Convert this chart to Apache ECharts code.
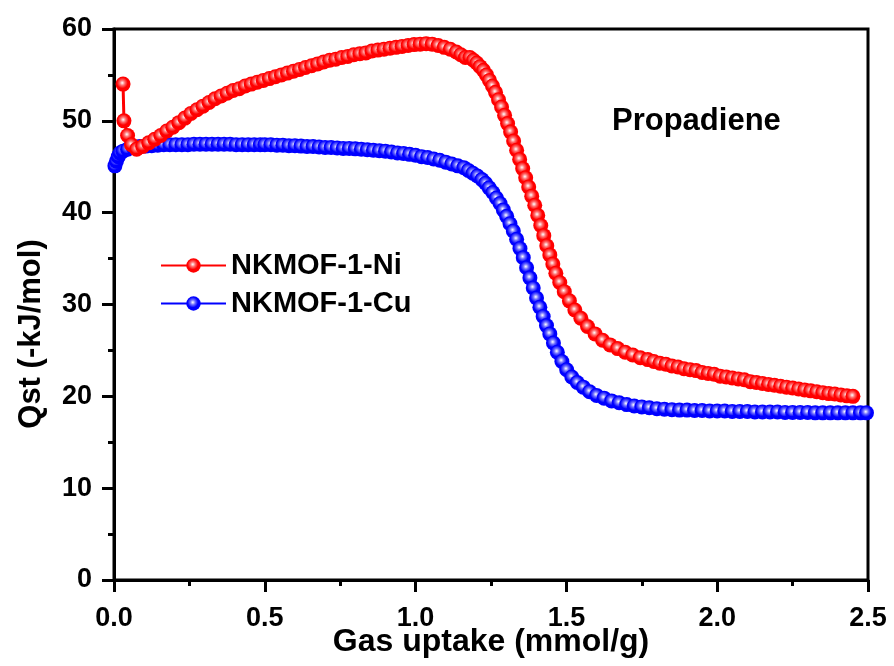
<!DOCTYPE html>
<html>
<head>
<meta charset="utf-8">
<script src="https://cdn.jsdelivr.net/npm/echarts@6/dist/echarts.min.js"></script>
<style>
  html, body { margin: 0; padding: 0; background: #fff; }
  #main { width: 894px; height: 666px; }
</style>
</head>
<body>
<div id="main"></div>
<script>
// NKMOF-1-Ni, Qst vs uptake
var niX = [0.030, 0.033, 0.045, 0.058, 0.075, 0.095, 0.115, 0.135, 0.155, 0.175, 0.195, 0.215, 0.235, 0.255, 0.275,
    0.295, 0.315, 0.335, 0.355, 0.375, 0.395, 0.415, 0.435, 0.455, 0.475, 0.495, 0.515, 0.535, 0.555, 0.575,
    0.595, 0.615, 0.635, 0.655, 0.675, 0.695, 0.715, 0.735, 0.755, 0.775, 0.795, 0.815, 0.835, 0.855, 0.875,
    0.895, 0.915, 0.935, 0.955, 0.975, 0.995, 1.015, 1.035, 1.055, 1.075, 1.095, 1.115, 1.135, 1.150, 1.165,
    1.180, 1.192, 1.203, 1.214, 1.225, 1.235, 1.245, 1.255, 1.265, 1.275, 1.285, 1.295, 1.305, 1.315, 1.325,
    1.335, 1.345, 1.355, 1.365, 1.375, 1.385, 1.395, 1.405, 1.415, 1.425, 1.435, 1.445, 1.455, 1.465, 1.478,
    1.493, 1.510, 1.528, 1.548, 1.570, 1.595, 1.620, 1.645, 1.670, 1.695, 1.720, 1.745, 1.770, 1.790, 1.810,
    1.830, 1.850, 1.870, 1.890, 1.910, 1.930, 1.950, 1.970, 1.990, 2.010, 2.030, 2.050, 2.070, 2.090, 2.110,
    2.130, 2.150, 2.170, 2.190, 2.210, 2.230, 2.250, 2.270, 2.290, 2.310, 2.330, 2.350, 2.370, 2.390, 2.410,
    2.430, 2.450];
var niY = [54.0, 50.0, 48.4, 47.4, 46.9, 47.2, 47.6, 48.0, 48.4, 48.9, 49.3, 49.8, 50.3, 50.8, 51.2,
    51.6, 52.0, 52.4, 52.7, 53.0, 53.3, 53.5, 53.8, 54.0, 54.2, 54.4, 54.6, 54.8, 55.0, 55.2,
    55.4, 55.6, 55.8, 56.0, 56.2, 56.4, 56.6, 56.7, 56.9, 57.0, 57.2, 57.3, 57.4, 57.6, 57.7,
    57.8, 57.9, 58.0, 58.1, 58.2, 58.3, 58.35, 58.4, 58.35, 58.2, 58.0, 57.8, 57.5, 57.2, 56.9,
    56.9, 56.6, 56.3, 55.9, 55.5, 55.0, 54.4, 53.8, 53.1, 52.3, 51.5, 50.6, 49.7, 48.8, 47.8,
    46.8, 45.8, 44.8, 43.8, 42.8, 41.8, 40.8, 39.7, 38.6, 37.5, 36.4, 35.4, 34.4, 33.4, 32.4,
    31.4, 30.4, 29.4, 28.5, 27.6, 26.8, 26.1, 25.6, 25.2, 24.8, 24.5, 24.2, 24.0, 23.8, 23.6,
    23.5, 23.3, 23.2, 23.0, 22.9, 22.8, 22.6, 22.5, 22.4, 22.2, 22.1, 22.0, 21.9, 21.8, 21.6,
    21.5, 21.4, 21.3, 21.2, 21.1, 21.0, 20.9, 20.8, 20.7, 20.6, 20.5, 20.4, 20.3, 20.25, 20.15,
    20.05, 20.0];

// NKMOF-1-Cu
var cuX = [0.003, 0.008, 0.014, 0.020, 0.030, 0.045, 0.064, 0.085, 0.105, 0.125, 0.145, 0.165, 0.185, 0.205, 0.225,
    0.245, 0.265, 0.285, 0.305, 0.325, 0.345, 0.365, 0.385, 0.405, 0.425, 0.445, 0.465, 0.485, 0.500, 0.520,
    0.540, 0.560, 0.580, 0.600, 0.620, 0.640, 0.660, 0.680, 0.700, 0.720, 0.740, 0.760, 0.780, 0.800, 0.820,
    0.840, 0.860, 0.880, 0.900, 0.920, 0.940, 0.960, 0.980, 1.000, 1.020, 1.040, 1.060, 1.080, 1.100, 1.120,
    1.140, 1.160, 1.175, 1.190, 1.205, 1.220, 1.232, 1.244, 1.256, 1.268, 1.280, 1.291, 1.302, 1.313, 1.324,
    1.335, 1.346, 1.357, 1.368, 1.379, 1.390, 1.401, 1.412, 1.423, 1.434, 1.445, 1.457, 1.470, 1.485, 1.501,
    1.518, 1.536, 1.556, 1.577, 1.600, 1.625, 1.650, 1.675, 1.700, 1.725, 1.750, 1.775, 1.800, 1.825, 1.850,
    1.875, 1.900, 1.925, 1.950, 1.975, 2.000, 2.025, 2.050, 2.075, 2.100, 2.125, 2.150, 2.175, 2.200, 2.225,
    2.250, 2.275, 2.300, 2.325, 2.350, 2.375, 2.400, 2.425, 2.450, 2.475, 2.495];
var cuY = [45.1, 45.6, 46.1, 46.5, 46.7, 46.9, 47.1, 47.2, 47.25, 47.3, 47.35, 47.4, 47.4, 47.4, 47.4,
    47.4, 47.45, 47.45, 47.45, 47.45, 47.45, 47.45, 47.45, 47.4, 47.4, 47.4, 47.4, 47.4, 47.4, 47.4,
    47.35, 47.35, 47.3, 47.3, 47.25, 47.2, 47.2, 47.15, 47.1, 47.1, 47.05, 47.0, 47.0, 46.95, 46.9,
    46.85, 46.8, 46.75, 46.7, 46.6, 46.5, 46.45, 46.35, 46.25, 46.1, 46.0, 45.85, 45.7, 45.5, 45.3,
    45.1, 44.9, 44.6, 44.3, 44.0, 43.6, 43.2, 42.7, 42.2, 41.6, 41.0, 40.3, 39.6, 38.8, 38.0,
    37.1, 36.1, 35.1, 34.0, 32.9, 31.8, 30.7, 29.7, 28.7, 27.7, 26.8, 25.8, 24.8, 23.8, 22.9,
    22.1, 21.5, 21.0, 20.5, 20.1, 19.8, 19.5, 19.3, 19.1, 18.95, 18.85, 18.75, 18.65, 18.6, 18.55,
    18.5, 18.5, 18.45, 18.45, 18.4, 18.4, 18.4, 18.35, 18.35, 18.35, 18.3, 18.3, 18.3, 18.3, 18.25,
    18.25, 18.25, 18.25, 18.2, 18.2, 18.2, 18.2, 18.2, 18.2, 18.2, 18.2];

var xTicks = [0, 0.5, 1.0, 1.5, 2.0, 2.5];
var yTicks = [0, 10, 20, 30, 40, 50, 60];

function pairs(xs, ys) {
    var out = [];
    for (var i = 0; i < xs.length; i++) {
        out.push([xs[i], ys[i]]);
    }
    return out;
}

function ball(c) {
    return {
        type : 'radial',
        x : 0.45,
        y : 0.42,
        r : 0.6,
        colorStops : [
            {offset : 0, color : '#ffffff'},
            {offset : 0.28, color : c[0]},
            {offset : 0.6, color : c[1]},
            {offset : 1, color : c[1]}
        ]
    };
}

var font = 'Liberation Sans, Arial, sans-serif';

var chart = echarts.init(document.getElementById('main'));
var option = {
    animation : false,
    backgroundColor : '#fff',
    grid : {
        left : 114,
        right : 26,
        top : 29,
        bottom : 86,
        outerBoundsMode : 'none',
        show : true,
        borderColor : '#000',
        borderWidth : 3
    },
    legend : {
        data : ['NKMOF-1-Ni', 'NKMOF-1-Cu'],
        orient : 'vertical',
        left : 155,
        top : 246,
        itemWidth : 65,
        itemHeight : 18,
        itemGap : 9,
        textStyle : {
            fontFamily : font,
            fontWeight : 'bold',
            fontSize : 29,
            color : '#000'
        }
    },
    graphic : [
        {
            type : 'text',
            left : 612,
            top : 106,
            style : {
                text : 'Propadiene',
                fontFamily : font,
                fontWeight : 'bold',
                fontSize : 31,
                fill : '#000'
            }
        },
        {
            // axis titles drawn by hand so they sit where the original has them
            type : 'text',
            x : 491,
            y : 642,
            style : {
                text : 'Gas uptake (mmol/g)',
                fontFamily : font,
                fontWeight : 'bold',
                fontSize : 32,
                fill : '#000',
                textAlign : 'center',
                textVerticalAlign : 'middle'
            }
        },
        {
            type : 'text',
            x : 31,
            y : 334,
            rotation : Math.PI / 2,
            style : {
                text : 'Qst (-kJ/mol)',
                fontFamily : font,
                fontWeight : 'bold',
                fontSize : 31,
                fill : '#000',
                textAlign : 'center',
                textVerticalAlign : 'middle'
            }
        }
    ],
    xAxis : {
        type : 'value',
        min : 0,
        max : 2.5,
        interval : 0.5,
        axisLine : {lineStyle : {color : '#000', width : 3}},
        axisTick : {length : 12, lineStyle : {width : 3, color : '#000'}},
        minorTick : {show : true, splitNumber : 2, length : 6, lineStyle : {width : 3, color : '#000'}},
        splitLine : {show : false},
        axisLabel : {
            margin : 25,
            fontFamily : font,
            fontWeight : 'bold',
            fontSize : 27,
            color : '#000',
            formatter : function (v) {
                return xTicks.indexOf(v) >= 0 ? v.toFixed(1) : '';
            }
        }
    },
    yAxis : {
        type : 'value',
        min : 0,
        max : 60,
        interval : 10,
        axisLine : {lineStyle : {color : '#000', width : 3}},
        axisTick : {length : 12, lineStyle : {width : 3, color : '#000'}},
        minorTick : {show : true, splitNumber : 2, length : 6, lineStyle : {width : 3, color : '#000'}},
        splitLine : {show : false},
        axisLabel : {
            margin : 22,
            fontFamily : font,
            fontWeight : 'bold',
            fontSize : 27,
            color : '#000',
            formatter : function (v) {
                return yTicks.indexOf(v) >= 0 ? String(v) : '';
            }
        }
    },
    series : [
        {
            name : 'NKMOF-1-Ni',
            type : 'line',
            z : 3,
            symbol : 'circle',
            symbolSize : 15,
            showAllSymbol : true,
            lineStyle : {color : '#ff0000', width : 3},
            itemStyle : {color : ball(['#ff7070', '#ff0000'])},
            data : pairs(niX, niY)
        },
        {
            name : 'NKMOF-1-Cu',
            type : 'line',
            z : 2,
            symbol : 'circle',
            symbolSize : 15,
            showAllSymbol : true,
            lineStyle : {color : '#0000ff', width : 3},
            itemStyle : {color : ball(['#7070ff', '#0000ff'])},
            data : pairs(cuX, cuY)
        }
    ]
};
chart.setOption(option);
</script>
</body>
</html>
